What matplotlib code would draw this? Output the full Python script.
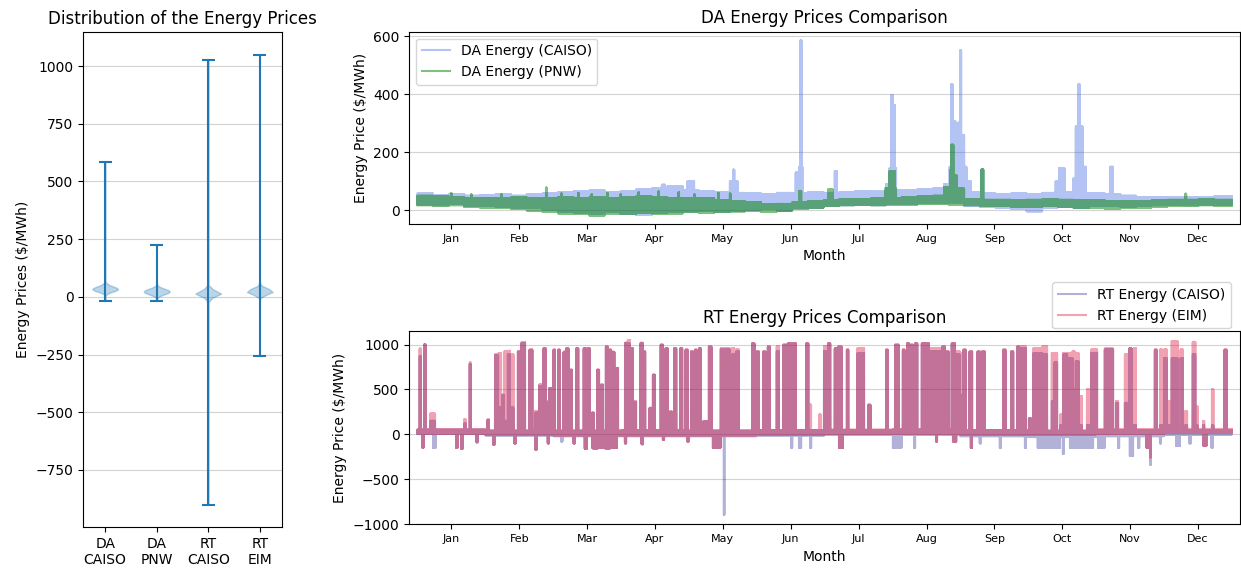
import numpy as np
import matplotlib
matplotlib.use("Agg")
import matplotlib.pyplot as plt

# ---------------- data ----------------
month_labels = ["Jan", "Feb", "Mar", "Apr", "May", "Jun",
                "Jul", "Aug", "Sep", "Oct", "Nov", "Dec"]
violin_labels = ["DA\nCAISO", "DA\nPNW", "RT\nCAISO", "RT\nEIM"]

# DA weekly baseline envelopes ($/MWh), 52 weeks
da_caiso_week_lo = [20, 18, 22, 15, 15, 12, 10, 8, 2, -5, -8, -10, -5,
                    -12, -16, -8, -5, -3, 0, -5, 0, 2, 5, 0, 8, 10,
                    15, 18, 20, 18, 22, 22, 25, 25, 28, 15, 12, 10, 5,
                    -3, 10, 12, 8, 15, 15, 12, 15, 18, 20, 18, 20, 20]
da_caiso_week_hi = [58, 52, 55, 50, 52, 55, 50, 55, 58, 62, 66, 68, 62,
                    66, 72, 75, 82, 70, 66, 62, 60, 58, 55, 60, 58, 62,
                    60, 62, 66, 64, 70, 68, 72, 75, 78, 62, 58, 55, 58,
                    56, 60, 62, 60, 58, 55, 50, 45, 44, 45, 46, 44, 48]
da_pnw_week_lo = [18, 15, 18, 12, 10, 8, 5, 0, -5, -10, -12, -17, -10,
                  -12, -8, -10, -10, -5, -8, -5, -3, 0, -5, 0, 5, 10,
                  15, 18, 20, 18, 20, 20, 22, 22, 20, 18, 15, 15, 12,
                  12, 15, 12, 10, 10, 5, 8, 10, 12, 15, 15, 18, 15]
da_pnw_week_hi = [50, 48, 45, 42, 40, 42, 45, 42, 42, 45, 42, 45, 42,
                  45, 48, 45, 42, 40, 42, 35, 30, 28, 20, 22, 28, 32,
                  35, 38, 38, 40, 42, 45, 48, 50, 48, 38, 36, 36, 35,
                  36, 38, 36, 35, 35, 32, 30, 32, 35, 36, 36, 38, 36]

# DA price spikes: start day of year, duration (days), peak ($/MWh)
da_caiso_spike_day = [109.5, 121.0, 140.0, 141.5, 169.5, 171.0, 171.6, 187.0,
                      210.0, 211.5, 212.3, 213.2, 236.0, 238.5, 239.2, 239.8,
                      242.3, 243.2, 243.7, 245.0, 246.0, 252.8, 286.0, 287.5,
                      294.0, 295.0, 296.2, 298.0, 310.5]
da_caiso_spike_len = [1.5, 3.0, 3.5, 0.5, 1.5, 1.5, 0.5, 1.0,
                      1.5, 3.0, 0.6, 0.8, 2.5, 1.0, 0.6, 1.3,
                      0.9, 0.5, 1.3, 1.0, 2.0, 0.8, 1.5, 2.5,
                      1.0, 3.0, 0.6, 1.5, 1.2]
da_caiso_spike_val = [88, 100, 100, 140, 130, 150, 586, 135,
                      90, 145, 398, 363, 90, 150, 435, 306,
                      302, 552, 260, 150, 100, 140, 100, 145,
                      110, 289, 435, 150, 150]
da_pnw_spike_day = [15.0, 24.0, 37.5, 57.6, 64.4, 72.0, 78.0, 85.0, 91.0,
                    99.0, 108.0, 117.0, 124.0, 134.7, 140.0, 171.0, 184.0,
                    209.5, 211.5, 236.0, 238.8, 239.2, 240.2, 242.0, 252.8, 344.0]
da_pnw_spike_len = [0.3, 0.3, 0.3, 0.4, 0.3, 0.3, 0.3, 0.3, 0.3,
                    0.3, 0.3, 0.3, 0.3, 0.3, 0.3, 1.0, 2.0,
                    5.0, 2.5, 3.0, 0.5, 1.0, 1.5, 3.0, 0.8, 0.5]
da_pnw_spike_val = [60, 55, 55, 78, 58, 60, 55, 60, 55,
                    62, 65, 62, 55, 60, 58, 66, 72,
                    75, 135, 80, 140, 226, 120, 75, 141, 57]

# RT monthly baseline envelopes ($/MWh)
rt_caiso_month_lo = [5, -10, -20, -20, -20, -10, 0, 0, -20, -30, -20, 0]
rt_caiso_month_hi = [50, 38, 38, 40, 38, 40, 45, 50, 40, 35, 40, 45]
rt_eim_month_lo = [10, 0, -10, -10, -10, -5, 5, 5, -5, 0, 5, 15]
rt_eim_month_hi = [55, 40, 40, 45, 40, 45, 50, 55, 45, 45, 55, 60]

# RT price spikes: start day, duration (days), EIM peak, CAISO peak
rt_spike_day = [1.0, 3.1, 5.8, 21.0, 23.4, 31.4, 34.8, 36.3, 38.0, 39.0,
                40.5, 41.5, 45.0, 46.7, 50.3, 52.8, 54.6, 56.5, 57.6, 59.0,
                61.0, 63.1, 65.5, 66.7, 68.5, 71.2, 74.5, 76.3, 78.1, 80.5,
                82.3, 84.4, 85.7, 87.3, 89.0, 93.0, 94.3, 95.5, 97.0, 100.0,
                101.2, 104.0, 105.5, 109.0, 110.2, 111.2, 113.2, 115.0, 117.8, 120.2,
                122.6, 124.4, 126.2, 128.0, 130.6, 135.9, 137.5, 138.7, 141.0, 143.0,
                150.0, 152.0, 155.0, 157.0, 161.0, 164.0, 166.0, 168.0, 174.3, 175.8,
                180.0, 182.2, 184.0, 187.0, 188.6, 192.4, 197.2, 202.0, 210.0, 214.0,
                217.5, 219.4, 221.0, 223.0, 226.0, 229.9, 235.2, 237.0, 239.4, 241.0,
                243.0, 244.7, 247.4, 251.0, 253.0, 262.5, 266.0, 268.8, 270.3, 274.0,
                276.0, 278.1, 280.1, 284.3, 285.5, 288.0, 289.4, 292.0, 293.6, 295.0,
                296.6, 300.0, 302.0, 308.0, 313.0, 317.0, 319.0, 321.0, 330.4, 332.8,
                334.6, 336.6, 338.0, 342.0, 344.0, 347.4, 349.0, 352.0, 356.0, 361.7]
rt_spike_len = [0.6, 0.5, 2.1, 0.6, 0.5, 0.7, 1.4, 1.2, 0.7, 1.0,
                0.9, 1.5, 1.5, 1.6, 1.2, 1.5, 0.9, 1.0, 0.8, 1.0,
                0.7, 0.7, 0.7, 1.0, 0.8, 0.9, 1.0, 1.0, 0.9, 0.9,
                0.9, 0.9, 1.1, 1.0, 0.9, 1.0, 1.0, 1.1, 1.0, 1.0,
                0.9, 1.5, 0.9, 1.0, 0.8, 1.0, 0.8, 1.0, 0.9, 0.9,
                0.9, 0.7, 0.8, 2.6, 1.2, 1.0, 0.9, 1.2, 1.0, 1.0,
                1.0, 1.0, 1.0, 1.0, 1.0, 1.5, 1.7, 1.6, 0.9, 0.6,
                0.7, 1.8, 1.0, 1.6, 1.5, 0.7, 3.0, 1.0, 0.8, 1.6,
                0.8, 0.9, 1.0, 1.0, 3.3, 4.5, 1.2, 1.0, 1.5, 2.0,
                1.0, 1.0, 1.2, 1.0, 1.3, 1.0, 1.0, 0.9, 2.4, 1.0,
                2.0, 1.9, 2.1, 0.9, 1.2, 0.8, 1.8, 1.6, 0.9, 1.3,
                1.2, 1.0, 2.6, 3.8, 1.0, 1.6, 1.0, 1.0, 0.9, 0.9,
                1.2, 1.0, 2.6, 1.0, 0.9, 1.2, 0.6, 0.6, 0.7, 0.9]
rt_spike_eim = [955, 1005, 230, 170, 800, 165, 890, 905, 440, 925,
                930, 890, 925, 1018, 945, 260, 555, 960, 370, 515,
                945, 945, 920, 960, 720, 960, 960, 960, 240, 720,
                555, 980, 945, 920, 740, 1020, 1050, 960, 370, 1020,
                925, 295, 665, 1000, 480, 960, 256, 960, 960, 945,
                925, 945, 960, 145, 980, 960, 960, 960, 960, 945,
                1018, 925, 925, 980, 980, 1000, 1018, 1018, 1018, 330,
                220, 985, 1018, 960, 980, 945, 960, 330, 945, 1000,
                945, 1018, 1000, 1018, 1018, 960, 980, 925, 1018, 925,
                905, 945, 925, 925, 925, 945, 925, 980, 980, 180,
                960, 960, 980, 905, 907, 220, 907, 907, 925, 907,
                425, 500, 945, 955, 370, 890, 960, 960, 945, 945,
                945, 370, 1040, 945, 256, 1030, 310, 145, 500, 945]
rt_spike_caiso = [870, 1000, 150, 120, 780, 160, 880, 300, 440, 150,
                  890, 300, 920, 1025, 940, 240, 540, 955, 360, 510,
                  940, 940, 915, 955, 715, 955, 955, 955, 240, 715,
                  550, 975, 940, 915, 735, 1015, 1010, 955, 360, 1015,
                  920, 290, 660, 995, 475, 955, 250, 955, 955, 940,
                  920, 940, 955, 140, 975, 945, 945, 945, 890, 925,
                  1010, 920, 920, 975, 925, 995, 1010, 1010, 1010, None,
                  None, 925, 1010, 955, 975, 940, 905, 325, 940, 995,
                  940, 1010, 995, 1010, 1010, 925, 975, 920, 1010, 890,
                  440, 940, 920, 920, 920, 940, 920, 975, 960, 175,
                  905, 905, 890, 370, 800, 100, 890, 850, 500, 815,
                  100, 100, 907, 945, 350, 350, 955, 100, 940, 100,
                  850, 100, 850, 850, 100, 890, 100, 100, 100, 940]

# RT negative dips: start day, duration (days), EIM low, CAISO low
rt_dip_day = [2.2, 7.0, 17.3, 19.6, 26.5, 34.0, 43.5, 52.8, 58.4, 64.4,
              70.0, 75.0, 78.5, 81.5, 84.0, 87.0, 93.0, 100.5, 110.0, 121.0,
              132.4, 137.3, 167.5, 171.0, 176.0, 188.9, 213.1, 222.6, 232.4, 240.0,
              248.0, 252.0, 261.0, 272.2, 278.0, 283.0, 289.2, 292.4, 297.2, 305.0,
              314.0, 319.2, 323.0, 326.7, 328.3, 332.7, 340.0, 346.0, 352.2, 355.9]
rt_dip_len = [0.5, 1.2, 0.7, 0.7, 0.6, 0.6, 0.6, 0.7, 0.6, 0.6,
              0.6, 1.0, 2.5, 2.0, 2.5, 2.5, 0.6, 0.6, 0.6, 0.6,
              3.4, 0.3, 0.5, 1.0, 0.5, 1.8, 3.8, 0.5, 0.5, 1.5,
              0.6, 0.5, 0.5, 0.5, 4.5, 5.0, 0.5, 4.3, 5.6, 3.0,
              0.5, 1.5, 0.5, 1.5, 0.4, 0.5, 1.7, 0.5, 1.4, 0.5]
rt_dip_eim = [-150, None, -150, -160, -80, -115, -100, -170, -100, None,
              -100, -160, -155, -150, -155, -150, -100, -110, -60, -80,
              -150, None, None, None, None, -150, None, None, -80, -80,
              -150, None, None, None, None, None, None, None, None, None,
              None, None, None, -150, -256, None, None, None, -130, None]
rt_dip_caiso = [-150, -150, -150, -160, -90, -115, -100, -170, -100, -80,
                -100, -160, -155, -150, -155, -150, -100, -110, -60, -80,
                -150, -900, -150, -150, -150, -150, -150, -150, -80, -80,
                -150, -100, -150, -150, -150, -150, -215, -150, -150, -150,
                -150, -240, -150, -150, -338, -100, -130, -100, -130, -150]

# ---------------- build hourly series from the read values ----------------
N_HOURS = 8760
hours = np.arange(N_HOURS)
week_of_hour = np.minimum(hours // 168, 51)
month_of_hour = np.minimum(hours // 730, 11)


def build_series(base_lo, base_hi, period_idx, up_day, up_len, up_val,
                 dn_day=(), dn_len=(), dn_val=()):
    """Hourly envelope (low/high) from baseline bands plus the read spikes.
    The plotted hourly line swings between the low and high envelope."""
    base_lo = np.asarray(base_lo, float)
    base_hi = np.asarray(base_hi, float)
    lo = base_lo[period_idx]
    hi = base_hi[period_idx]
    dist = [(lo + hi) / 2.0, base_lo, base_hi]
    for d, n, v in zip(up_day, up_len, up_val):
        if v is None:
            continue
        a = int(round(d * 24))
        b = max(a + 1, int(round((d + n) * 24)))
        hi[a:b] = np.maximum(hi[a:b], v)
        dist.append([v])
    for d, n, v in zip(dn_day, dn_len, dn_val):
        if v is None:
            continue
        a = int(round(d * 24))
        b = max(a + 1, int(round((d + n) * 24)))
        lo[a:b] = np.minimum(lo[a:b], v)
        dist.append([v])
    line = np.where(hours % 2 == 0, lo, hi)
    return line, np.concatenate(dist)


da_c_line, da_c_dist = build_series(
    da_caiso_week_lo, da_caiso_week_hi, week_of_hour,
    da_caiso_spike_day, da_caiso_spike_len, da_caiso_spike_val)
da_p_line, da_p_dist = build_series(
    da_pnw_week_lo, da_pnw_week_hi, week_of_hour,
    da_pnw_spike_day, da_pnw_spike_len, da_pnw_spike_val)
rt_c_line, rt_c_dist = build_series(
    rt_caiso_month_lo, rt_caiso_month_hi, month_of_hour,
    rt_spike_day, rt_spike_len, rt_spike_caiso,
    rt_dip_day, rt_dip_len, rt_dip_caiso)
rt_e_line, rt_e_dist = build_series(
    rt_eim_month_lo, rt_eim_month_hi, month_of_hour,
    rt_spike_day, rt_spike_len, rt_spike_eim,
    rt_dip_day, rt_dip_len, rt_dip_eim)

# ---------------- figure ----------------
plt.rcParams["font.family"] = ["DejaVu Sans"]
fig = plt.figure(figsize=(12.41, 5.70), dpi=100)
ax_v = fig.add_axes([0.0671, 0.0754, 0.1599, 0.8684])
ax_da = fig.add_axes([0.3298, 0.6070, 0.6694, 0.3374])
ax_rt = fig.add_axes([0.3298, 0.0802, 0.6694, 0.3391])

grid_kw = dict(color="#d3d3d3", linewidth=0.8)

# violin panel
parts = ax_v.violinplot([da_c_dist, da_p_dist, rt_c_dist, rt_e_dist],
                        positions=[1, 2, 3, 4],
                        bw_method=lambda k: 10.0 / np.std(k.dataset))
for body in parts["bodies"]:
    body.set_facecolor("#1f77b4")
    body.set_edgecolor("#1f77b4")
    body.set_alpha(0.3)
for key in ("cbars", "cmins", "cmaxes"):
    parts[key].set_color("#1f77b4")
ax_v.set_xticks([1, 2, 3, 4])
ax_v.set_xticklabels(violin_labels, fontsize=10)
ax_v.set_ylabel("Energy Prices ($/MWh)", fontsize=10)
ax_v.set_title("Distribution of the Energy Prices", fontsize=12)
ax_v.set_axisbelow(True)
ax_v.yaxis.grid(True, **grid_kw)

month_ticks = 365 + 730 * np.arange(12)

# DA panel
ax_da.plot(hours, da_c_line, color="royalblue", alpha=0.4, lw=1.5,
           label="DA Energy (CAISO)")
ax_da.plot(hours, da_p_line, color="green", alpha=0.5, lw=1.5,
           label="DA Energy (PNW)")
ax_da.legend(loc="upper left", fontsize=10)
ax_da.set_title("DA Energy Prices Comparison", fontsize=12)

# RT panel
ax_rt.plot(hours, rt_c_line, color="navy", alpha=0.3, lw=1.5,
           label="RT Energy (CAISO)")
ax_rt.plot(hours, rt_e_line, color="crimson", alpha=0.4, lw=1.5,
           label="RT Energy (EIM)")
ax_rt.legend(loc="lower right", bbox_to_anchor=(0.9888, 1.014),
             borderaxespad=0, fontsize=10)
ax_rt.set_title("RT Energy Prices Comparison", fontsize=12)
ax_rt.set_ylim(-1003, 1152)

for ax in (ax_da, ax_rt):
    ax.margins(x=0.01)
    ax.set_xticks(month_ticks)
    ax.set_xticklabels(month_labels, fontsize=8)
    ax.set_xlabel("Month", fontsize=10)
    ax.set_ylabel("Energy Price ($/MWh)", fontsize=10)
    ax.set_axisbelow(True)
    ax.yaxis.grid(True, **grid_kw)

fig.savefig("out.png", dpi=100)
